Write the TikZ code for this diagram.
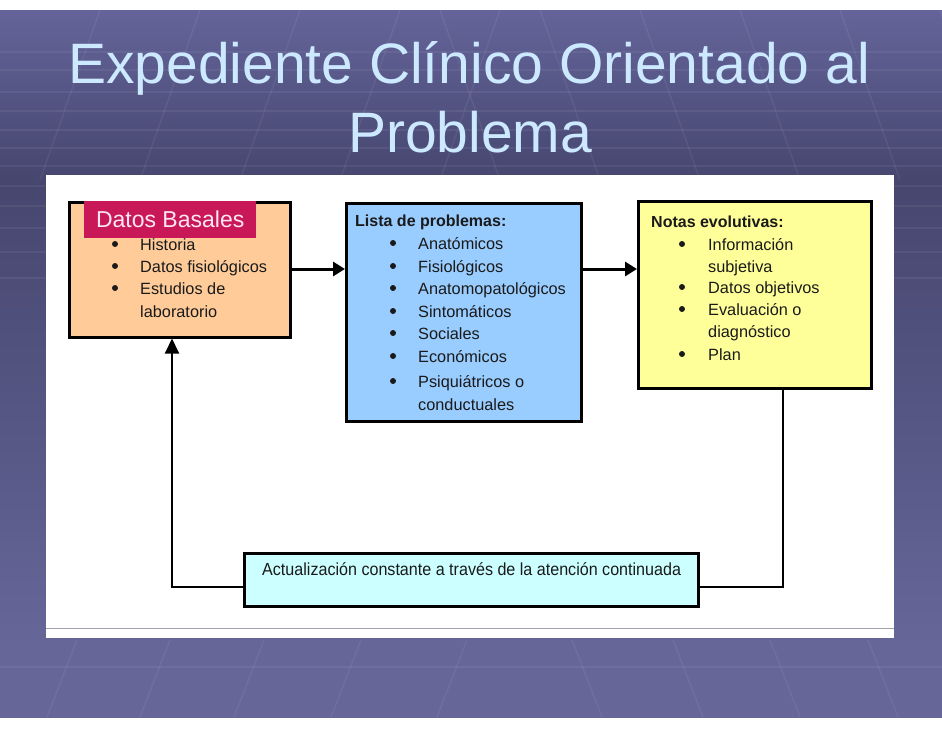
\documentclass[tikz,border=0pt]{standalone}
\usepackage{fontspec}
\setmainfont{Liberation Sans}
\newfontfamily\narrowfont[FakeStretch=0.92]{Liberation Sans}
\usetikzlibrary{arrows.meta}
\definecolor{titlecol}{HTML}{CCE9FF}
\definecolor{orangefill}{HTML}{FFCC99}
\definecolor{bluefill}{HTML}{99CCFF}
\definecolor{yellowfill}{HTML}{FFFF99}
\definecolor{cyanfill}{HTML}{CCFFFF}
\definecolor{crimson}{HTML}{C81858}
\definecolor{labeltext}{HTML}{FFE6F2}
\definecolor{bgtop}{HTML}{64649A}
\definecolor{bgdark}{HTML}{46466F}
\definecolor{bgbot}{HTML}{666699}
\definecolor{panelline}{HTML}{A0A0A8}
\definecolor{inktext}{HTML}{1A1A1A}
\pgfdeclareverticalshading{slidebg}{100bp}{color(0bp)=(bgbot); color(30bp)=(bgbot); color(63bp)=(bgdark); color(75bp)=(bgtop); color(100bp)=(bgtop)}
\tikzset{
  boxnode/.style={draw=black, line width=2.5pt, inner sep=0pt, anchor=north west},
  txt/.style={anchor=base west, inner sep=0pt, text=inktext, font=\fontsize{16.3}{16}\selectfont},
  hdr/.style={anchor=base west, inner sep=0pt, text=inktext, font=\fontsize{16}{16}\selectfont\bfseries},
  bul/.style={circle, fill=inktext, inner sep=0pt, minimum size=6pt},
  titletxt/.style={anchor=base, inner sep=0pt, text=titlecol, font=\fontsize{57}{57}\selectfont},
  flowarrow/.style={line width=3pt, -{Triangle[length=12pt,width=14pt]}},
  loopline/.style={line width=2pt},
  grid/.style={white, opacity=0.06, line width=1.5pt}
}
\begin{document}
\begin{tikzpicture}[x=1pt,y=-1pt]
\useasboundingbox (0,0) rectangle (942,728);
\fill[white] (0,0) rectangle (942,728);
% slide background
\shade[shading=slidebg] (0,10) rectangle (942,717);
% faint grid texture
\foreach \yy in {52,70,92,111,130,148,166,186,206,228,252,278}
  \draw[grid] (0,\yy) -- (942,\yy);
\draw[grid] (0,667) -- (942,667);
\foreach \xx in {-60,40,140,240,340,440}
  \draw[grid] (\xx+60,10) -- (\xx,180);
\foreach \xx in {500,600,700,800,900,1000}
  \draw[grid] (\xx-60,10) -- (\xx,180);
\foreach \xx in {77,170,264,361,467}
  \draw[grid] (\xx,640) -- (\xx-30,717);
\foreach \xx in {572,673,770,868}
  \draw[grid] (\xx,640) -- (\xx+30,717);
% title
\node[titletxt] (t1) at (469,83) {Expediente Clínico Orientado al};
\node[titletxt] (t2) at (470,152) {Problema};
% white panel
\fill[white] (46,175) rectangle (894,638);
\draw[panelline, line width=1pt] (46,628) -- (894,628);
% boxes
\node[boxnode, fill=orangefill, minimum width=221pt, minimum height=135pt] (orange) at (68,201) {};
\node[boxnode, fill=bluefill, minimum width=235pt, minimum height=218pt] (blue) at (345,202) {};
\node[boxnode, fill=yellowfill, minimum width=233pt, minimum height=187pt] (yellow) at (637,200) {};
\node[boxnode, fill=cyanfill, minimum width=454pt, minimum height=53pt] (bottom) at (243,552) {};
% orange box content
\node[bul] (ob1) at (115,244) {};
\node[txt] (o1) at (140,250) {Historia};
\node[bul] (ob2) at (115,266) {};
\node[txt] (o2) at (140,272) {Datos fisiológicos};
\node[bul] (ob3) at (115,288) {};
\node[txt] (o3) at (140,294) {Estudios de};
\node[txt] (o4) at (140,317) {laboratorio};
% label over orange box
\node[fill=crimson, text=labeltext, inner sep=0pt, anchor=north west, minimum width=172pt, minimum height=37pt, font=\fontsize{23}{23}\selectfont] (lbl) at (84,201) {Datos Basales};
% blue box content
\node[hdr] (bh) at (355,226) {Lista de problemas:};
\node[bul] (bb1) at (393,243) {};
\node[txt] (b1) at (418,249) {Anatómicos};
\node[bul] (bb2) at (393,266) {};
\node[txt] (b2) at (418,272) {Fisiológicos};
\node[bul] (bb3) at (393,288) {};
\node[txt] (b3) at (418,294) {Anatomopatológicos};
\node[bul] (bb4) at (393,311) {};
\node[txt] (b4) at (418,317) {Sintomáticos};
\node[bul] (bb5) at (393,333) {};
\node[txt] (b5) at (418,339) {Sociales};
\node[bul] (bb6) at (393,356) {};
\node[txt] (b6) at (418,362) {Económicos};
\node[bul] (bb7) at (393,381) {};
\node[txt] (b7) at (418,387) {Psiquiátricos o};
\node[txt] (b8) at (418,410) {conductuales};
% yellow box content
\node[hdr] (yh) at (651,227) {Notas evolutivas:};
\node[bul] (yb1) at (682,244) {};
\node[txt] (y1) at (708,250) {Información};
\node[txt] (y2) at (708,272) {subjetiva};
\node[bul] (yb2) at (682,287) {};
\node[txt] (y3) at (708,293) {Datos objetivos};
\node[bul] (yb3) at (682,309) {};
\node[txt] (y4) at (708,315) {Evaluación o};
\node[txt] (y5) at (708,337) {diagnóstico};
\node[bul] (yb4) at (682,354) {};
\node[txt] (y6) at (708,360) {Plan};
% bottom box content
\node[anchor=base west, inner sep=0pt, text=inktext, font=\narrowfont\fontsize{17.5}{17.5}\selectfont] (bt) at (262,575) {Actualización constante a través de la atención continuada};
% connectors
\coordinate (mid) at (0,269);
\draw[flowarrow] (orange.east |- mid) -- (blue.west |- mid);
\draw[flowarrow] (blue.east |- mid) -- (yellow.west |- mid);
\coordinate (lr) at (783,587);
\coordinate (ll) at (172,587);
\draw[loopline] (yellow.south -| lr) -- (lr) -- (bottom.east |- lr);
\draw[loopline, -{Triangle[length=15pt,width=14pt]}] (bottom.west |- ll) -- (ll) -- (orange.south -| ll);
\end{tikzpicture}
\end{document}
